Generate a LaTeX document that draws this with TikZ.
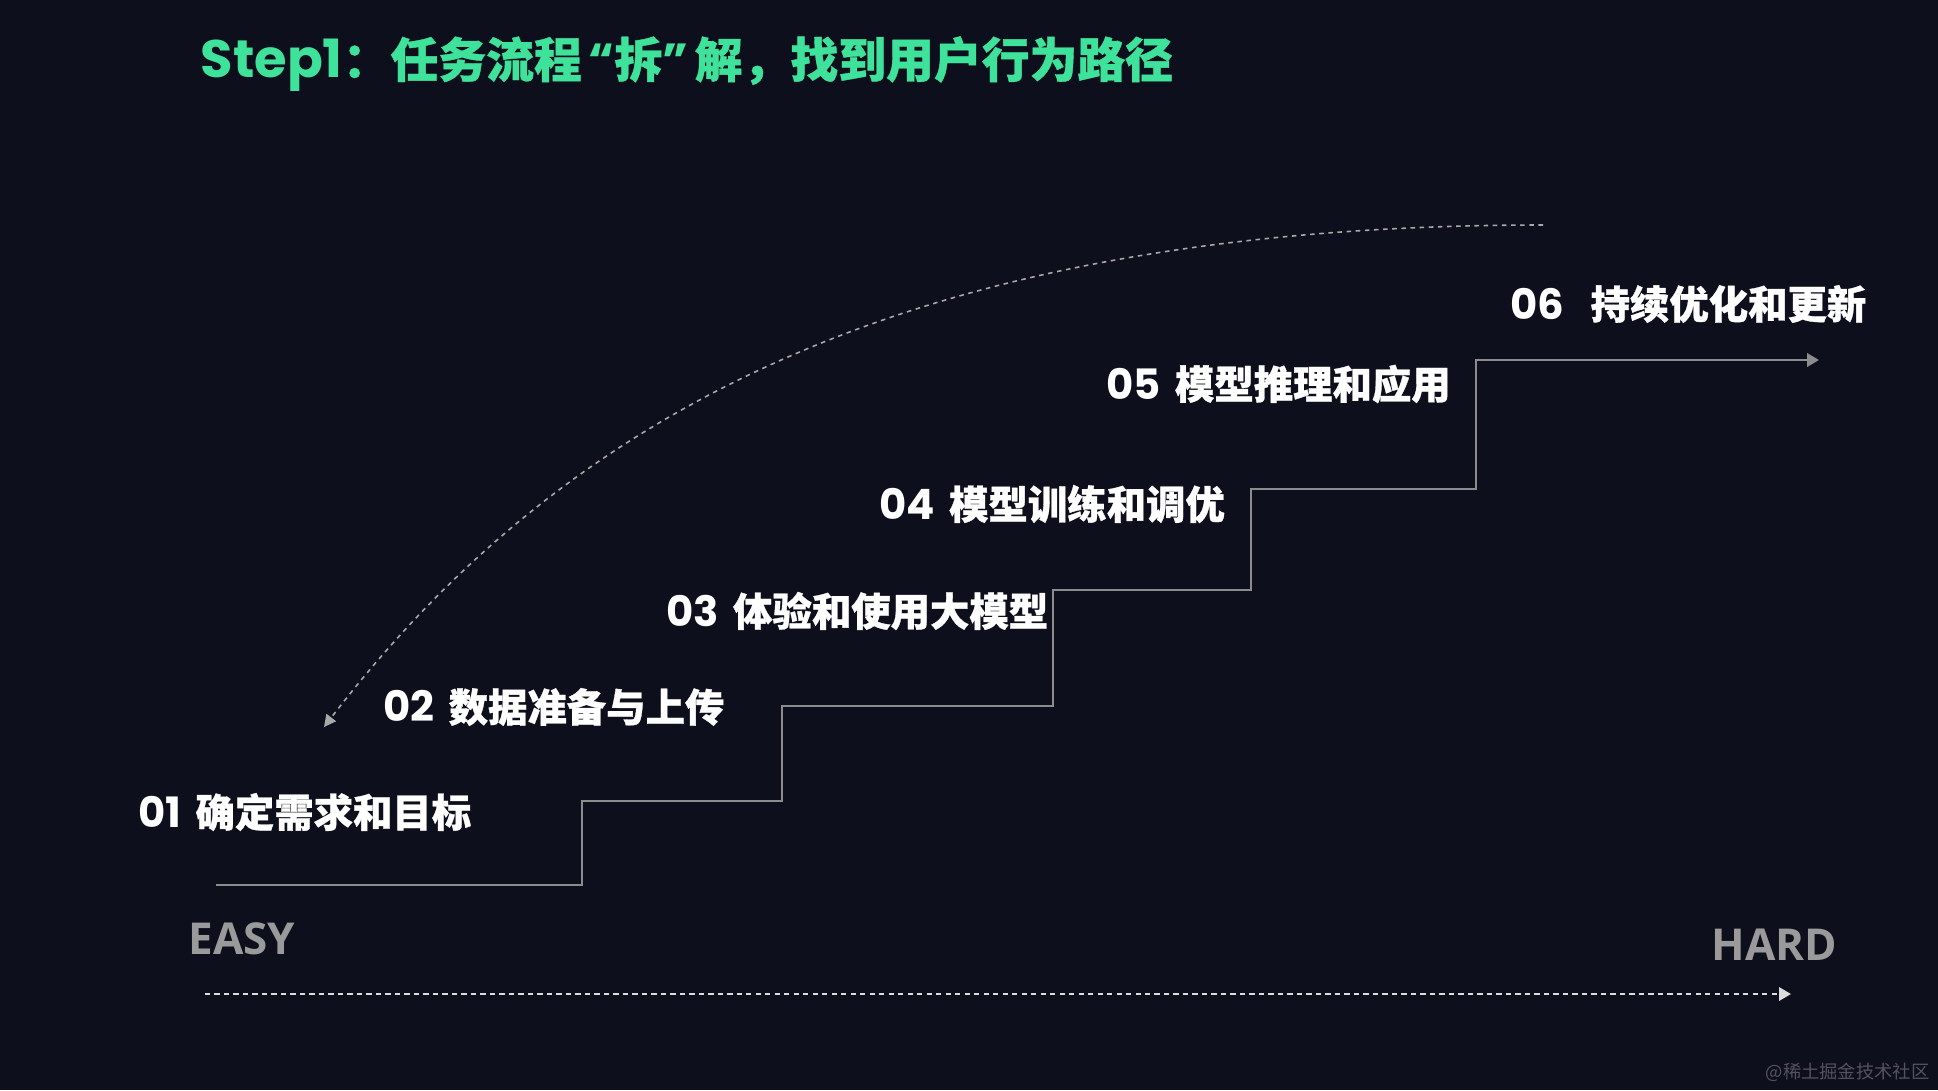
\documentclass[tikz,border=0pt]{standalone}
\usepackage{fontspec}
\newfontfamily\cjk[BoldFeatures={FakeBold=0.8}]{Noto Sans CJK SC}
\newfontfamily\numfont{Poppins}
\newfontfamily\axisfont{Open Sans}
\usetikzlibrary{arrows.meta}

\definecolor{bgnavy}{HTML}{0E0F1D}
\definecolor{titlegreen}{HTML}{3EE29A}
\definecolor{stairgray}{HTML}{8C8C8C}
\definecolor{axisgray}{HTML}{9A9A9A}
\definecolor{dotgray}{HTML}{DCDCDC}
\definecolor{curvegray}{HTML}{A8A8A8}
\definecolor{markgray}{HTML}{52535E}

\newcommand{\stagetext}[3][0.33em]{{\numfont\bfseries #2}\hspace{#1}{\cjk\bfseries\fontsize{11.2}{13}\selectfont #3}}

\tikzset{
    stagelabel/.style={anchor=west, inner sep=0pt, text=white, font=\fontsize{11.9}{14}\selectfont},
    levellabel/.style={inner sep=0pt, text=axisgray, font=\axisfont\bfseries\fontsize{12.5}{14}\selectfont},
    stairline/.style={draw=stairgray, line width=0.75pt, -{Triangle[length=3.4pt, width=3.8pt]}},
    axisline/.style={draw=dotgray, line width=0.65pt, dash pattern=on 1.5pt off 1.2pt, -{Triangle[length=3.4pt, width=3.8pt, fill=dotgray]}},
    pathcurve/.style={draw=curvegray, line width=0.45pt, dash pattern=on 1.3pt off 1.3pt, -{Triangle[length=3.4pt, width=3.4pt, fill=curvegray]}}
}

\begin{document}
\begin{tikzpicture}[x=0.01cm, y=-0.01cm]
    \useasboundingbox (0, 0) rectangle (1938, 1090);
    \fill[bgnavy] (0, 0) rectangle (1938, 1090);

    % title
    \node[anchor=west, inner sep=0pt, text=titlegreen] (title) at (200, 64)
        {{\numfont\bfseries\fontsize{15}{17}\selectfont Step1}{\cjk\bfseries\fontsize{13.6}{16}\selectfont ：任务流程\hspace{0.14em}{\numfont “}拆{\numfont ”}\hspace{0.14em}解，找到用户行为路径}};

    % stages
    \node[stagelabel] (stage1) at (138, 812) {\stagetext{01}{确定需求和目标}};
    \node[stagelabel] (stage2) at (383, 707) {\stagetext{02}{数据准备与上传}};
    \node[stagelabel] (stage3) at (666, 611) {\stagetext{03}{体验和使用大模型}};
    \node[stagelabel] (stage4) at (879, 504) {\stagetext{04}{模型训练和调优}};
    \node[stagelabel] (stage5) at (1106, 384) {\stagetext{05}{模型推理和应用}};
    \node[stagelabel] (stage6) at (1510, 304) {\stagetext[0.62em]{06}{持续优化和更新}};

    % staircase
    \coordinate (stairstart) at (216, 885);
    \coordinate (stairend) at (1819, 360);
    \draw[stairline] (stairstart) -| (582, 801) -| (782, 706) -| (1053, 590)
        -| (1251, 489) -| (1476, 360) -- (stairend);

    % user path
    \coordinate (curvestart) at (1543, 225);
    \coordinate (curveend) at (324, 727);
    \draw[pathcurve] (curvestart) .. controls (900, 225) and (560, 420) .. (curveend);

    % difficulty axis
    \node[levellabel, anchor=west] (easy) at (188, 939) {EASY};
    \node[levellabel, anchor=east] (hard) at (1838, 945) {HARD};
    \coordinate (axisstart) at (205, 994);
    \coordinate (axisend) at (1791, 994);
    \draw[axisline] (axisstart) -- (axisend);

    \node[anchor=east, inner sep=0pt, text=markgray, font=\cjk\fontsize{5.2}{6}\selectfont] (watermark) at (1930, 1072) {@稀土掘金技术社区};
\end{tikzpicture}
\end{document}
